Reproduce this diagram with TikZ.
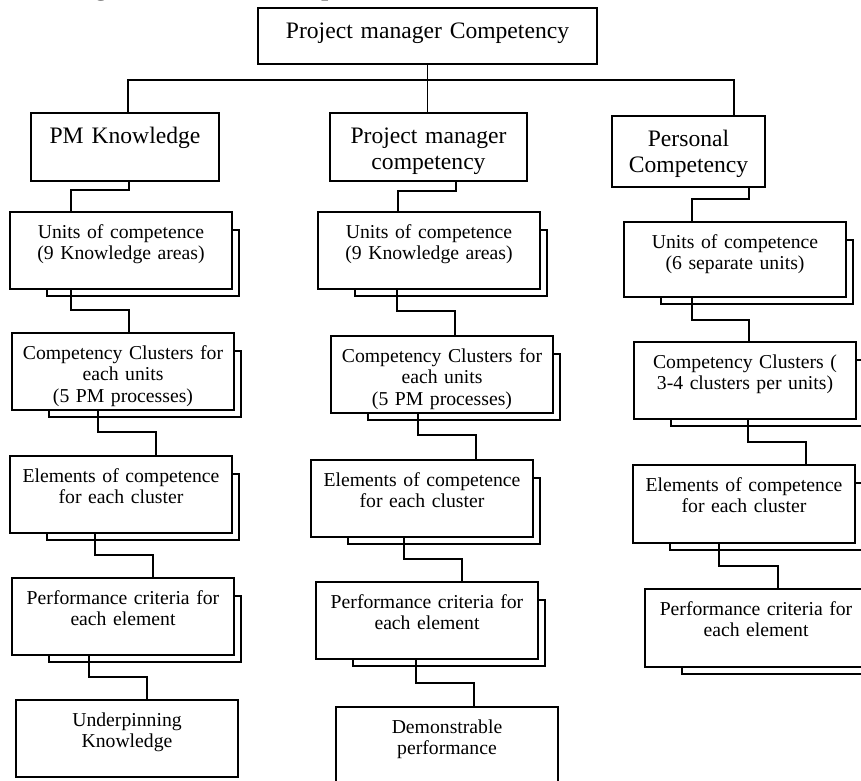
\documentclass[tikz,border=0pt]{standalone}
\usepackage{fontspec}
\setmainfont{Liberation Serif}
\usetikzlibrary{calc}
\newcommand{\hdfont}{\fontsize{23.6}{26.5}\selectfont}
\newcommand{\smfont}{\fontsize{19.7}{21.5}\selectfont}
\tikzset{box/.style = {draw, fill = white, inner sep = 0, outer sep = 0, align = center, anchor = north west}}
\tikzset{headbox/.style = {box, font = \hdfont, text height = 30pt}}
\tikzset{stepbox/.style = {box, font = \smfont, text width = 222pt, text height = 26pt, text depth = 51pt}}

\begin{document}
\begin{tikzpicture}[x = 1pt, y = -1pt, line width = 1.6pt]
    \useasboundingbox (0, 0) rectangle (861, 780);
    \clip (0, 0) rectangle (861, 780);

    \node [font = \fontsize{30}{34}\selectfont, anchor = base west, inner sep = 0] (caption) at (-17, -6) {Knowledge areas and description of};

    \node [headbox, text width = 339pt, text depth = 26pt] (top) at (258, 8) {Project manager Competency};
    \node [headbox, text width = 188pt, text depth = 38pt] (pmk) at (31, 113) {PM Knowledge};
    \node [headbox, text width = 197pt, text depth = 38pt] (pmc) at (330, 113) {Project manager\\competency};
    \node [headbox, text width = 153pt, text depth = 41pt] (pers) at (612, 116) {Personal\\Competency};

    \node [stepbox] (lunit) at (10, 212) {Units of competence\\(9 Knowledge areas)};
    \node [stepbox] (lclus) at (12, 333) {Competency Clusters for\\each units\\(5 PM processes)};
    \node [stepbox] (lelem) at (10, 456) {Elements of competence\\for each cluster};
    \node [stepbox] (lperf) at (12, 578) {Performance criteria for\\each element};
    \node [stepbox] (lknow) at (16, 700) {Underpinning\\Knowledge};

    \node [stepbox] (munit) at (318, 212) {Units of competence\\(9 Knowledge areas)};
    \node [stepbox] (mclus) at (331, 336) {Competency Clusters for\\each units\\(5 PM processes)};
    \node [stepbox] (melem) at (311, 460) {Elements of competence\\for each cluster};
    \node [stepbox] (mperf) at (316, 582) {Performance criteria for\\each element};
    \node [stepbox, text depth = 60pt] (mdemo) at (336, 707) {Demonstrable\\performance};

    \node [stepbox, text depth = 49pt] (runit) at (624, 222) {Units of competence\\(6 separate units)};
    \node [stepbox] (rclus) at (634, 342) {Competency Clusters (\\3-4 clusters per units)};
    \node [stepbox, text depth = 52pt] (relem) at (633, 465) {Elements of competence\\for each cluster};
    \node [stepbox, text depth = 52pt] (rperf) at (645, 589) {Performance criteria for\\each element};

    \foreach \n in {lunit, lclus, lelem, lperf, munit, mclus, melem, mperf, runit, rclus, relem, rperf}
        \draw ($(\n.north east) + (0, 18)$) -- ++(7, 0) |- ($(\n.south west) + (37, 7)$) -- ++(0, -7);

    \draw (top.south) -- ++(0, 16) -| ($(pmk.north west) + (97, 0)$);
    \draw (top.south) -- (top.south |- pmc.north);
    \draw (top.south) ++(0, 16) -| ($(pers.north west) + (122, 0)$);

    \draw ($(pmk.south west) + (98, 0)$) -- ++(0, 9) -| ($(lunit.north west) + (61, 0)$);
    \draw ($(pmc.south west) + (126, 0)$) -- ++(0, 10) -| ($(munit.north west) + (80, 0)$);
    \draw ($(pers.south west) + (137, 0)$) -- ++(0, 12) -| ($(runit.north west) + (68, 0)$);

    \draw ($(lunit.south west) + (61, 0)$) -- ++(0, 21) -| ($(lclus.north west) + (117, 0)$);
    \draw ($(munit.south west) + (79, 0)$) -- ++(0, 22) -| ($(mclus.north west) + (124, 0)$);
    \draw ($(runit.south west) + (68, 0)$) -- ++(0, 23) -| ($(rclus.north west) + (115, 0)$);

    \draw ($(lclus.south west) + (86, 0)$) -- ++(0, 22) -| ($(lelem.north west) + (146, 0)$);
    \draw ($(mclus.south west) + (87, 0)$) -- ++(0, 22) -| ($(melem.north west) + (165, 0)$);
    \draw ($(rclus.south west) + (114, 0)$) -- ++(0, 23) -| ($(relem.north west) + (173, 0)$);

    \draw ($(lelem.south west) + (85, 0)$) -- ++(0, 22) -| ($(lperf.north west) + (141, 0)$);
    \draw ($(melem.south west) + (93, 0)$) -- ++(0, 22) -| ($(mperf.north west) + (146, 0)$);
    \draw ($(relem.south west) + (86, 0)$) -- ++(0, 23) -| ($(rperf.north west) + (133, 0)$);

    \draw ($(lperf.south west) + (77, 0)$) -- ++(0, 22) -| ($(lknow.north west) + (131, 0)$);
    \draw ($(mperf.south west) + (100, 0)$) -- ++(0, 24) -| ($(mdemo.north west) + (138, 0)$);
  \end{tikzpicture}
\end{document}
